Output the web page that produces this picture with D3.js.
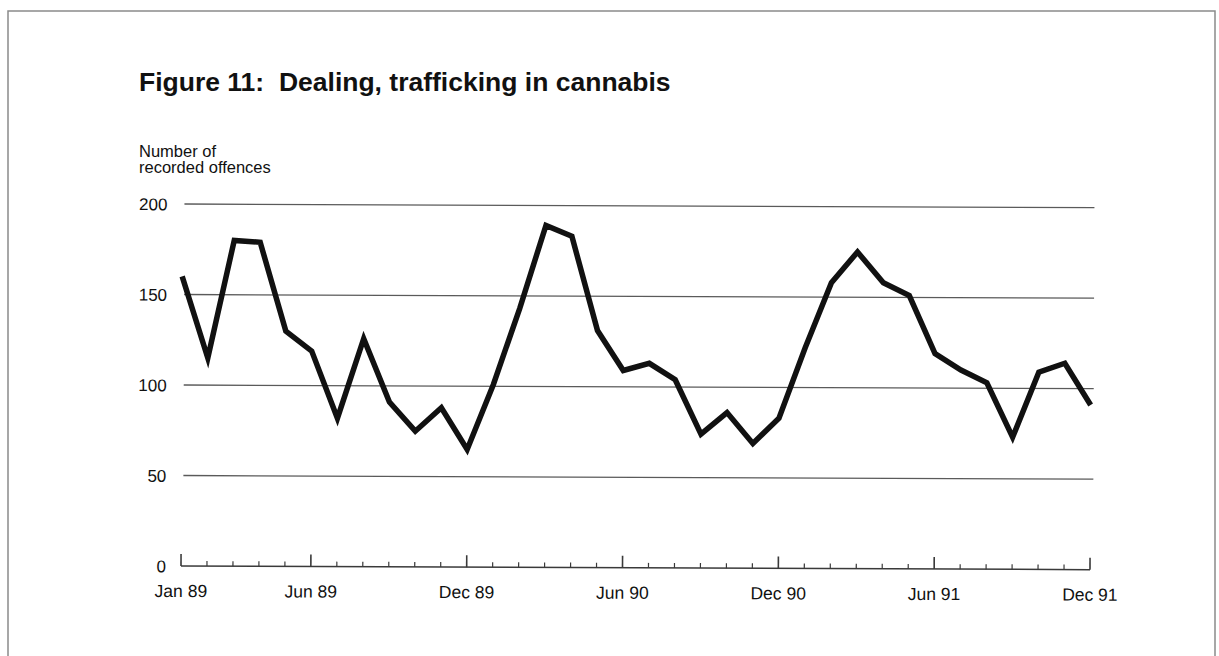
<!DOCTYPE html>
<html><head><meta charset="utf-8">
<script src="https://cdn.jsdelivr.net/npm/d3@7"></script>
<style>
body{margin:0;background:#fff}
svg{display:block}
text{font-family:"Liberation Sans",Arial,Helvetica,sans-serif;fill:#111}
</style>
</head><body>
<svg id="chart" width="1219" height="656"></svg>
<script>
const months = ["Jan 89","Feb 89","Mar 89","Apr 89","May 89","Jun 89","Jul 89","Aug 89","Sep 89","Oct 89","Nov 89","Dec 89",
                "Jan 90","Feb 90","Mar 90","Apr 90","May 90","Jun 90","Jul 90","Aug 90","Sep 90","Oct 90","Nov 90","Dec 90",
                "Jan 91","Feb 91","Mar 91","Apr 91","May 91","Jun 91","Jul 91","Aug 91","Sep 91","Oct 91","Nov 91","Dec 91"];
const offences = [160,115,180,179,130,119,82,126,91,75,88,65,
                  101,143,189,183,131,109,113,104,74,86,69,83,
                  122,158,175,158,151,119,110,103,73,109,114,91];
const xTickLabels = ["Jan 89","Jun 89","Dec 89","Jun 90","Dec 90","Jun 91","Dec 91"];
const yTicks = [0,50,100,150,200];
const titleText = "Figure 11:  Dealing, trafficking in cannabis";
const yTitle = ["Number of","recorded offences"];

const svg = d3.select("#chart");

// outer frame
svg.append("rect").attr("x",8).attr("y",11).attr("width",1207).attr("height",700)
  .attr("fill","none").attr("stroke","#8a8a8a").attr("stroke-width",1.5);

// title
svg.append("text").attr("x",139).attr("y",91)
  .style("font-weight","bold").style("font-size","26.5px").style("white-space","pre")
  .text(titleText);

// y axis title
svg.append("g").selectAll("text").data(yTitle).join("text")
  .attr("x",139).attr("y",(d,i)=>157+i*16)
  .style("font-size","16.5px").text(d=>d);

const x = d3.scalePoint().domain(months).range([181,1090]);
const y = d3.scaleLinear().domain([0,200]).range([566,204]);

const g = svg.append("g").attr("transform","rotate(0.23,181,566)");

// gridlines
g.append("g").selectAll("line").data(yTicks.filter(d=>d>0)).join("line")
  .attr("x1",x(months[0])+2).attr("x2",x(months[months.length-1])+3)
  .attr("y1",d=>y(d)).attr("y2",d=>y(d))
  .attr("stroke","#5a5a5a").attr("stroke-width",1.3);

// y tick labels
g.append("g").selectAll("text").data(yTicks).join("text")
  .attr("x",166).attr("y",d=>y(d)).attr("dy","0.37em")
  .attr("text-anchor","end").style("font-size","17px").text(d=>d);

// x axis baseline
g.append("line").attr("x1",x(months[0])).attr("x2",x(months[months.length-1]))
  .attr("y1",y(0)).attr("y2",y(0)).attr("stroke","#3a3a3a").attr("stroke-width",1.5);

// ticks
const major = new Set(xTickLabels);
g.append("g").selectAll("line").data(months).join("line")
  .attr("x1",d=>x(d)).attr("x2",d=>x(d))
  .attr("y1",y(0)).attr("y2",d=>y(0)-(major.has(d)?12:5))
  .attr("stroke","#3a3a3a").attr("stroke-width",d=>major.has(d)?1.6:1.2);

// x tick labels
g.append("g").selectAll("text").data(xTickLabels).join("text")
  .attr("x",d=>x(d)).attr("y",y(0)+31)
  .attr("text-anchor","middle").style("font-size","17.5px").text(d=>d);

// data line
const line = d3.line().x((d,i)=>x(months[i])).y(d=>y(d));
g.append("path").datum(offences).attr("d",line)
  .attr("fill","none").attr("stroke","#111").attr("stroke-width",5.5)
  .attr("stroke-linejoin","miter").attr("stroke-miterlimit",4);
</script>
</body></html>
